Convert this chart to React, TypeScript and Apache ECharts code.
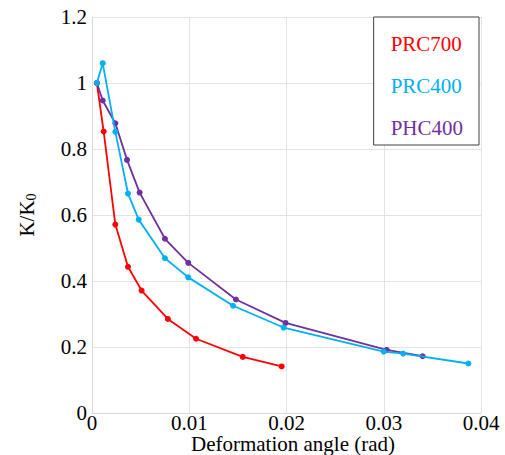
import React, { useEffect, useRef } from "react";
import * as echarts from "echarts";

const prc700X = [0.0005, 0.0012, 0.0024, 0.0037, 0.0051, 0.0078, 0.0107, 0.0155, 0.0195];
const prc700Y = [1.0, 0.853, 0.571, 0.443, 0.371, 0.285, 0.225, 0.17, 0.141];

const prc400X = [0.0005, 0.0011, 0.0024, 0.0037, 0.0048, 0.0075, 0.0099, 0.0145, 0.0197, 0.03, 0.032, 0.0387];
const prc400Y = [1.0, 1.06, 0.852, 0.665, 0.586, 0.469, 0.411, 0.325, 0.259, 0.186, 0.18, 0.15];

const phc400X = [0.0005, 0.0011, 0.0024, 0.0036, 0.0049, 0.0075, 0.0099, 0.0148, 0.0199, 0.0303, 0.034];
const phc400Y = [1.0, 0.947, 0.878, 0.767, 0.668, 0.528, 0.455, 0.344, 0.273, 0.191, 0.172];

const seriesNames = ["PRC700", "PRC400", "PHC400"];
const seriesColors = ["#ff0000", "#00b0f0", "#7030a0"];

const FONT = "'Liberation Serif', 'Times New Roman', serif";

function zip(xs: number[], ys: number[]) {
  return xs.map((x, i) => [x, ys[i]]);
}

export default function App() {
  const ref = useRef<HTMLDivElement>(null);
  useEffect(() => {
    document.body.style.margin = "0";
    if (!ref.current) return;
    const chart = echarts.init(ref.current, undefined, { renderer: "svg" });
    const mk = (idx: number, data: number[][], z: number) => ({
      name: seriesNames[idx],
      type: "line",
      data,
      z,
      symbol: "circle",
      symbolSize: 6,
      lineStyle: { color: seriesColors[idx], width: 1.8 },
      itemStyle: { color: seriesColors[idx] },
    });
    chart.setOption({
      animation: false,
      backgroundColor: "#ffffff",
      textStyle: { fontFamily: FONT },
      grid: { left: 92, right: 24, top: 17, bottom: 42, containLabel: false, outerBoundsMode: "none" },
      legend: {
        orient: "vertical",
        right: 26,
        top: 17,
        icon: "none",
        itemWidth: 0,
        itemHeight: 21,
        itemGap: 21,
        padding: [16, 16, 7, 12],
        backgroundColor: "#ffffff",
        borderColor: "#404040",
        borderWidth: 1,
        selectedMode: false,
        data: seriesNames.map((n, i) => ({
          name: n,
          textStyle: { color: seriesColors[i], fontSize: 21, fontFamily: FONT },
        })),
      },
      xAxis: {
        type: "value",
        min: 0,
        max: 0.04,
        interval: 0.01,
        name: "Deformation angle (rad)",
        nameLocation: "middle",
        nameGap: 21,
        nameMoveOverlap: false,
        nameTextStyle: { color: "#000", fontSize: 21, lineHeight: 20, fontFamily: FONT, padding: [0, 0, 0, 13] },
        axisLine: { show: true, lineStyle: { color: "#d9d9d9", width: 1 } },
        axisTick: { show: false },
        axisLabel: { color: "#000", fontSize: 21, lineHeight: 20, fontFamily: FONT, margin: 0 },
        splitLine: { show: true, lineStyle: { color: "#e3e3e3", width: 1 } },
      },
      yAxis: {
        type: "value",
        min: 0,
        max: 1.2,
        interval: 0.2,
        name: "{a|K/K}{b|0}",
        nameLocation: "middle",
        nameGap: 54,
        nameMoveOverlap: false,
        nameRotate: 90,
        nameTextStyle: {
          color: "#000",
          fontFamily: FONT,
          rich: {
            a: { fontSize: 21, fontFamily: FONT, color: "#000" },
            b: { fontSize: 14, fontFamily: FONT, color: "#000", padding: [9, 0, 0, 0] },
          },
        },
        axisLine: { show: true, lineStyle: { color: "#d9d9d9", width: 1 } },
        axisTick: { show: false },
        axisLabel: { color: "#000", fontSize: 21, fontFamily: FONT, margin: 5 },
        splitLine: { show: true, lineStyle: { color: "#e3e3e3", width: 1 } },
      },
      series: [
        mk(0, zip(prc700X, prc700Y), 2),
        mk(2, zip(phc400X, phc400Y), 3),
        mk(1, zip(prc400X, prc400Y), 4),
      ],
    });
    return () => chart.dispose();
  }, []);
  return <div ref={ref} style={{ width: 505, height: 455 }} />;
}
